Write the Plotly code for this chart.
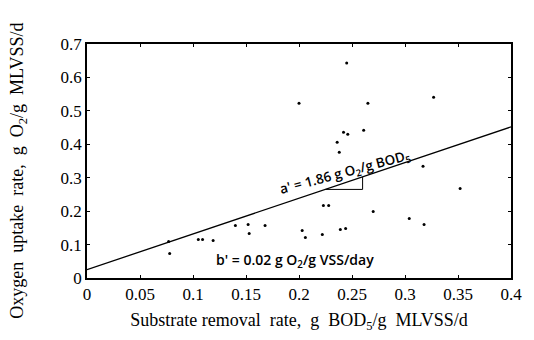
import plotly.graph_objects as go

# Scatter data: substrate removal rate (x) vs oxygen uptake rate (y)
rem_rate = [0.077, 0.078, 0.105, 0.109, 0.119, 0.140, 0.152, 0.153, 0.168,
            0.200, 0.203, 0.206, 0.222, 0.223, 0.228, 0.236, 0.238, 0.239,
            0.242, 0.244, 0.245, 0.246, 0.261, 0.265, 0.270, 0.304, 0.317,
            0.318, 0.327, 0.352]
o2_rate = [0.109, 0.073, 0.115, 0.115, 0.112, 0.157, 0.160, 0.133, 0.157,
           0.523, 0.142, 0.121, 0.130, 0.217, 0.217, 0.406, 0.376, 0.145,
           0.436, 0.148, 0.643, 0.430, 0.442, 0.523, 0.199, 0.178, 0.334,
           0.160, 0.541, 0.268]

# Fitted line
line_x = [0.0, 0.4]
line_y = [0.025, 0.452]

# Slope triangle marker
tri_x = [0.225, 0.26, 0.26]
tri_y = [0.265, 0.265, 0.302]

x_ticks = [0, 0.05, 0.1, 0.15, 0.2, 0.25, 0.3, 0.35, 0.4]
x_ticktext = ["0", "0.05", "0.1", "0.15", "0.2", "0.25", "0.3", "0.35", "0.4"]
y_ticks = [0, 0.1, 0.2, 0.3, 0.4, 0.5, 0.6, 0.7]
y_ticktext = ["0", "0.1", "0.2", "0.3", "0.4", "0.5", "0.6", "0.7"]

serif = "Liberation Serif"
sans = "Open Sans"

fig = go.Figure()
fig.add_trace(go.Scatter(x=line_x, y=line_y, mode="lines",
                         line=dict(color="black", width=1.3), hoverinfo="skip"))
fig.add_trace(go.Scatter(x=tri_x, y=tri_y, mode="lines",
                         line=dict(color="black", width=1), hoverinfo="skip"))
fig.add_trace(go.Scatter(x=rem_rate, y=o2_rate, mode="markers",
                         marker=dict(color="black", size=3)))

fig.add_annotation(x=0.243, y=0.313, xref="x", yref="y",
                   text="a' = 1.86 g O<sub>2</sub>/g BOD<sub>5</sub>",
                   showarrow=False, textangle=-15,
                   font=dict(family=sans, size=13.5, color="black", weight=600))
fig.add_annotation(x=0.196, y=0.052, xref="x", yref="y",
                   text="b' = 0.02 g O<sub>2</sub>/g VSS/day",
                   showarrow=False,
                   font=dict(family=sans, size=14, color="black", weight=600))

# Y axis title as annotation for exact placement
fig.add_annotation(xref="paper", yref="paper", x=-0.162, y=0.46,
                   xanchor="center", yanchor="middle", textangle=-90,
                   text="Oxygen\u00a0\u00a0uptake\u00a0\u00a0rate,\u00a0\u00a0g\u00a0\u00a0O<sub>2</sub>/g\u00a0\u00a0MLVSS/d",
                   showarrow=False,
                   font=dict(family=serif, size=18, color="black"))

axis_common = dict(showline=True, linecolor="black", linewidth=1.5, mirror="allticks",
                   ticks="inside", ticklen=3, tickcolor="black", showgrid=False,
                   zeroline=False)

fig.update_xaxes(range=[0, 0.4], tickvals=x_ticks, ticktext=x_ticktext,
                 tickfont=dict(family=serif, size=17, color="black"),
                 title=dict(text="Substrate\u00a0removal\u00a0\u00a0rate,\u00a0\u00a0g\u00a0\u00a0BOD<sub>5</sub>/g\u00a0\u00a0MLVSS/d",
                            font=dict(family=serif, size=18, color="black"), standoff=10),
                 **axis_common)
fig.update_yaxes(range=[0, 0.7], tickvals=y_ticks, ticktext=y_ticktext,
                 tickfont=dict(family=serif, size=17, color="black"),
                 **axis_common)

fig.update_layout(width=534, height=340, showlegend=False,
                  margin=dict(l=87, r=15, t=44, b=62),
                  paper_bgcolor="white", plot_bgcolor="white")

fig.write_html("out.html")
